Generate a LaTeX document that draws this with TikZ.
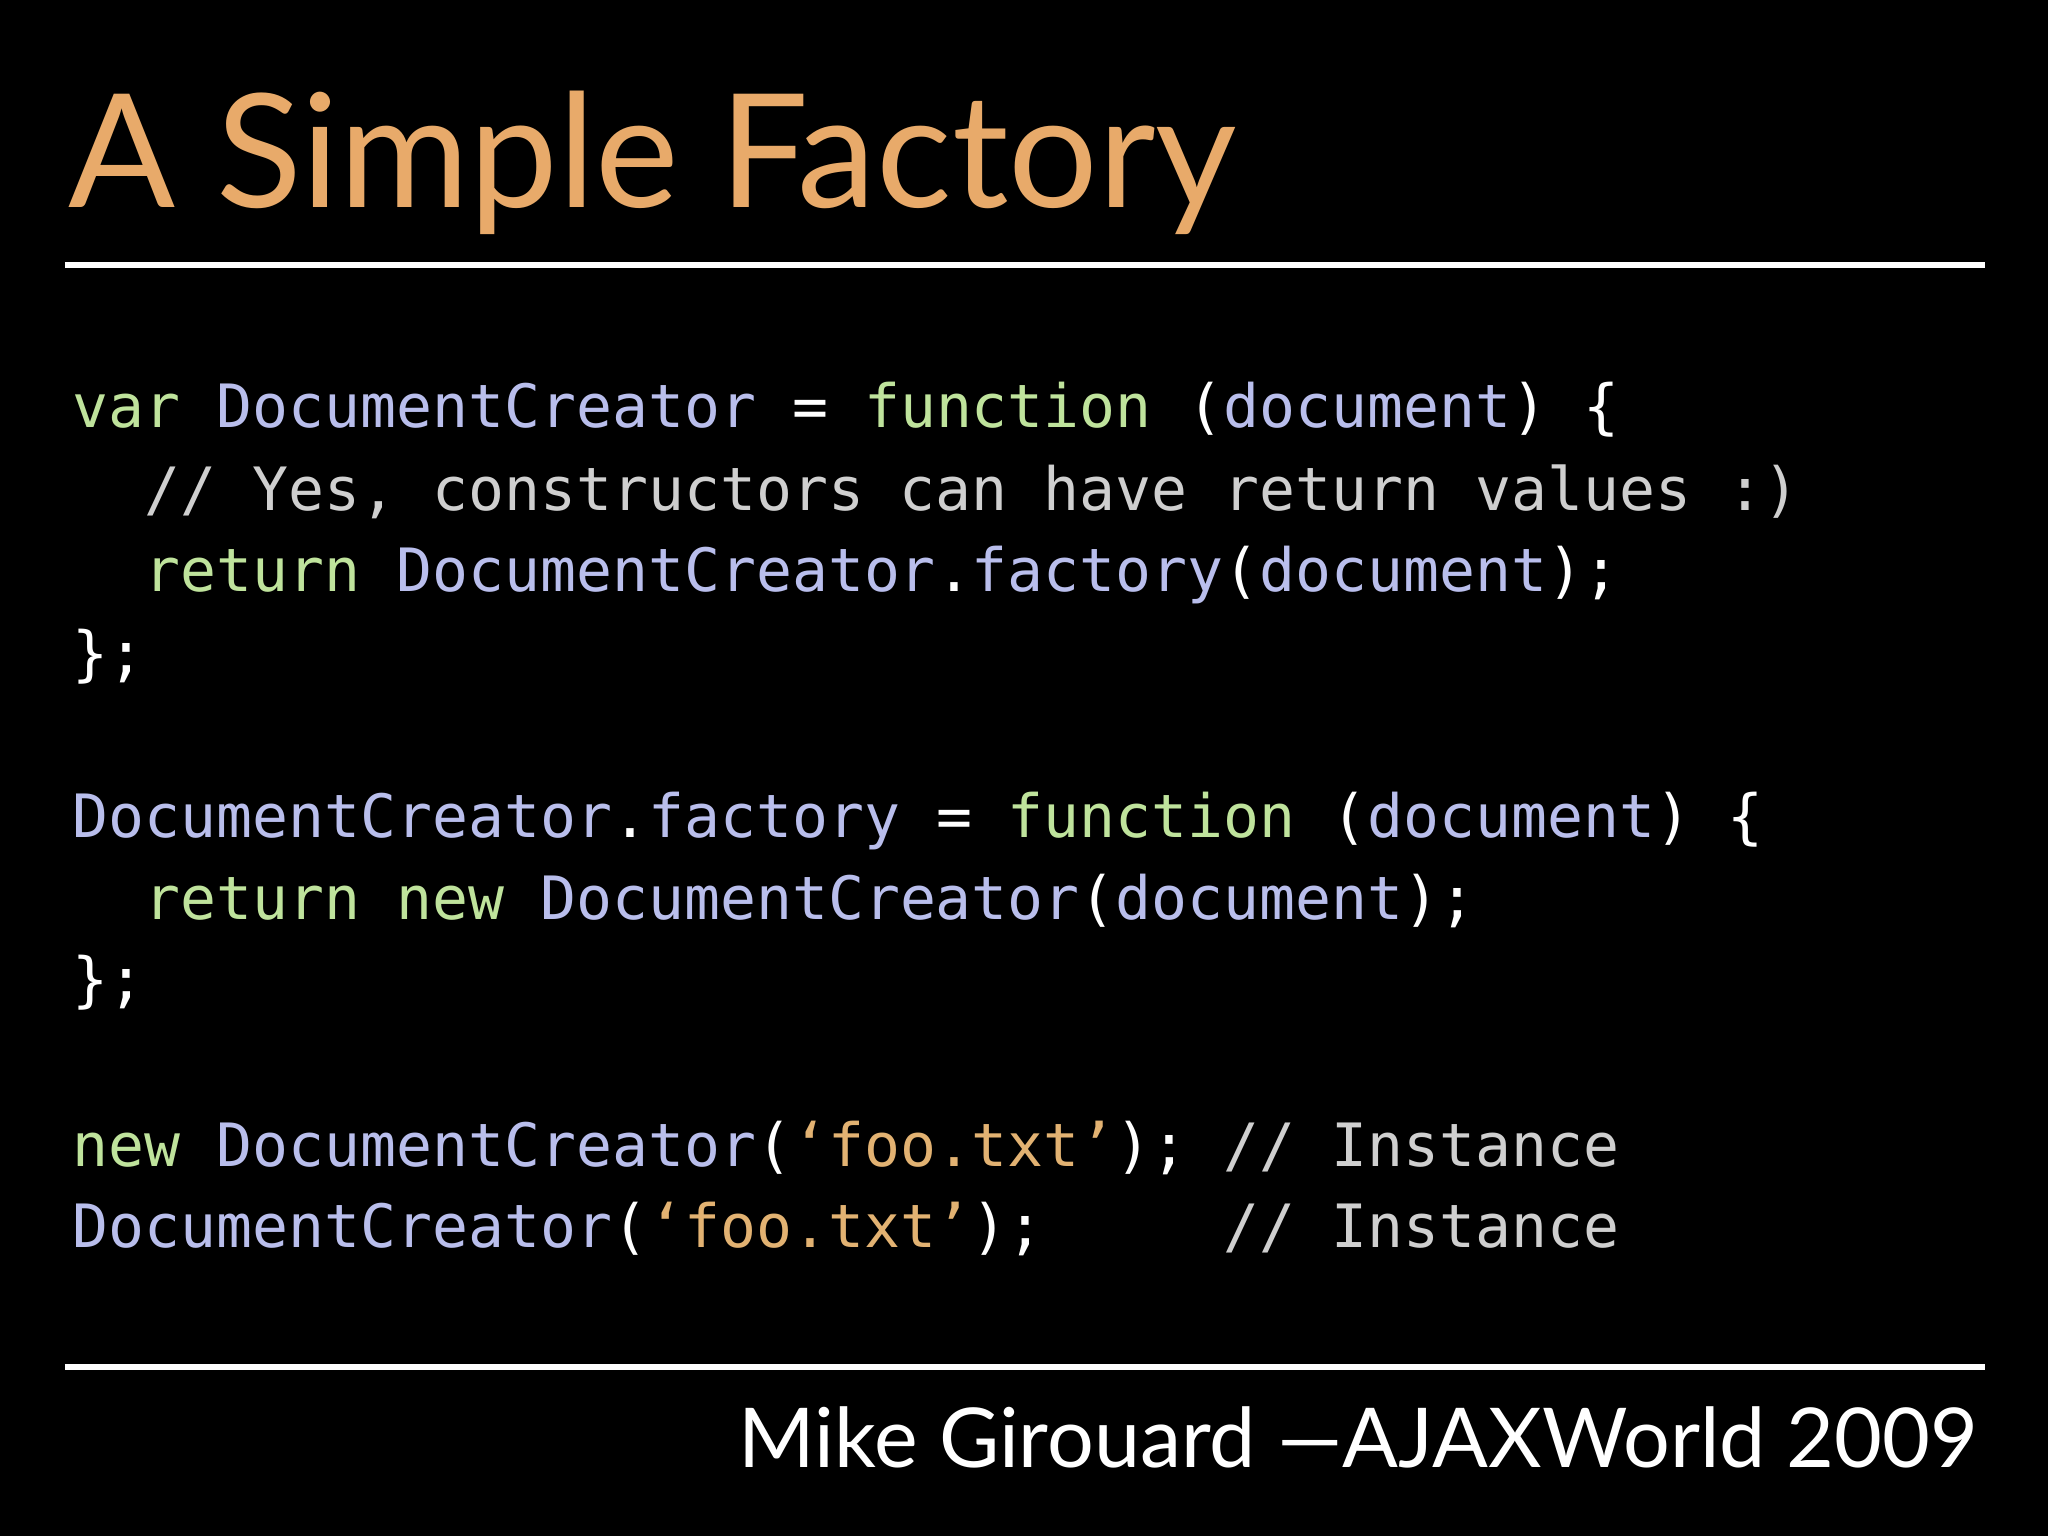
\documentclass[tikz,border=0pt]{standalone}
\usepackage{fontspec}
\setmainfont{Lato}
\setmonofont{DejaVu Sans Mono}
\definecolor{kwc}{HTML}{BFE39C}
\definecolor{idc}{HTML}{B9BEEC}
\definecolor{cmc}{HTML}{CFCFCF}
\definecolor{stc}{HTML}{E2B272}
\definecolor{ttl}{HTML}{E8AA6A}
\newcommand{\kw}[1]{\textcolor{kwc}{#1}}
\newcommand{\idn}[1]{\textcolor{idc}{#1}}
\newcommand{\cmt}[1]{\textcolor{cmc}{#1}}
\newcommand{\str}[1]{\textcolor{stc}{#1}}
\begin{document}
\begin{tikzpicture}[x=1cm,y=1cm,
  code/.style={anchor=base west,inner sep=0,text=white,font=\ttfamily\fontsize{17}{17}\selectfont}]
\fill[black] (0,0) rectangle (20.48,-15.36);
\useasboundingbox (0,0) rectangle (20.48,-15.36);
\node[anchor=base west,inner sep=0,text=ttl,font=\fontsize{45}{45}\selectfont] (title) at (0.68,-2.08) {A Simple Factory};
\draw[white,line width=1.5pt] (0.65,-2.65) -- (19.85,-2.65);
\draw[white,line width=1.5pt] (0.65,-13.67) -- (19.85,-13.67);
\node[anchor=base east,inner sep=0,text=white,font=\fontsize{23.5}{23.5}\selectfont] (foot) at (19.79,-14.67) {Mike Girouard —AJAXWorld 2009};
\node[code] (l1) at (0.72,-4.28) {\kw{var} \idn{DocumentCreator} = \kw{function} (\idn{document}) \{};
\node[code] (l2) at (0.72,-5.11) {~~\cmt{// Yes, constructors can have return values :)}};
\node[code] (l3) at (0.72,-5.92) {~~\kw{return} \idn{DocumentCreator}.\idn{factory}(\idn{document});};
\node[code] (l4) at (0.72,-6.74) {\};};
\node[code] (l5) at (0.72,-8.37) {\idn{DocumentCreator}.\idn{factory} = \kw{function} (\idn{document}) \{};
\node[code] (l6) at (0.72,-9.19) {~~\kw{return} \kw{new} \idn{DocumentCreator}(\idn{document});};
\node[code] (l7) at (0.72,-10.00) {\};};
\node[code] (l8) at (0.72,-11.66) {\kw{new} \idn{DocumentCreator}(\str{‘foo.txt’}); \cmt{// Instance}};
\node[code] (l9) at (0.72,-12.47) {\idn{DocumentCreator}(\str{‘foo.txt’});~~~~~\cmt{// Instance}};
\end{tikzpicture}
\end{document}
